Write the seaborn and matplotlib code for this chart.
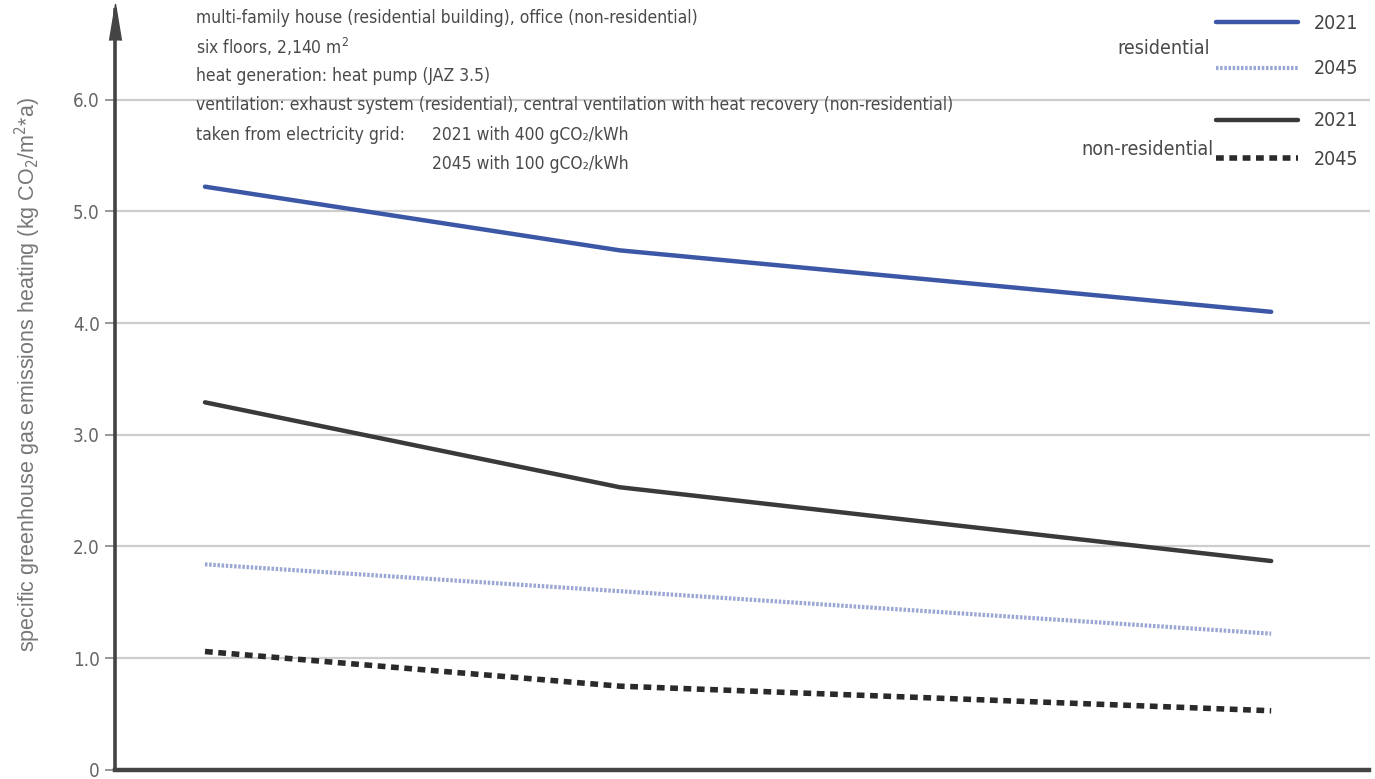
import numpy as np
import pandas as pd
import matplotlib
matplotlib.use("Agg")
import matplotlib.pyplot as plt
import seaborn as sns
from matplotlib.lines import Line2D

# data (x positions have no labels in the original)
x_pos = [1.0, 2.0, 3.57]
res_2021 = [5.22, 4.65, 4.10]
res_2045 = [1.84, 1.60, 1.22]
nonres_2021 = [3.29, 2.53, 1.87]
nonres_2045 = [1.06, 0.75, 0.53]
y_ticks = [0, 1, 2, 3, 4, 5, 6]
y_tick_labels = ["0", "1.0", "2.0", "3.0", "4.0", "5.0", "6.0"]

info_lines = [
    "multi-family house (residential building), office (non-residential)",
    "six floors, 2,140 m$^2$",
    "heat generation: heat pump (JAZ 3.5)",
    "ventilation: exhaust system (residential), central ventilation with heat recovery (non-residential)",
    "taken from electricity grid:",
]
grid_notes = ["2021 with 400 gCO\u2082/kWh", "2045 with 100 gCO\u2082/kWh"]

sns.set_theme(style="white")
plt.rcParams['font.family'] = ['DejaVu Sans']
plt.rcParams['font.stretch'] = 'condensed'

fig = plt.figure(figsize=(13.75, 7.79), dpi=100)
ax = fig.add_axes([0.0836, 0.0116, 0.9124, 0.9754])

blue = "#3c57a6"
light_blue = "#9aa7d4"
dark = "#3a3a3a"

sns.lineplot(x=x_pos, y=res_2021, ax=ax, color=blue, linewidth=3.2)
sns.lineplot(x=x_pos, y=res_2045, ax=ax, color=light_blue, linewidth=3.0,
             linestyle=(0, (0.6, 0.4)))
sns.lineplot(x=x_pos, y=nonres_2021, ax=ax, color=dark, linewidth=3.2)
sns.lineplot(x=x_pos, y=nonres_2045, ax=ax, color="#2a2a2a", linewidth=4.0,
             linestyle=(0, (1.4, 1.0)))

ax.set_xlim(0.783, 3.807)
ax.set_ylim(0, 6.8)
ax.set_xticks([])
ax.set_yticks(y_ticks)
ax.set_yticklabels(y_tick_labels, color="#666666", fontsize=13.5)
ax.tick_params(axis="y", length=7, width=1.2, color="#888888", pad=4, left=True)

for v in y_ticks[1:]:
    ax.axhline(v, color="#cdcdcd", linewidth=1.6, zorder=0)

for s in ["top", "right"]:
    ax.spines[s].set_visible(False)
ax.spines["left"].set_color("#444444")
ax.spines["left"].set_linewidth(2.6)
ax.spines["bottom"].set_color("#444444")
ax.spines["bottom"].set_linewidth(3.2)
ax.plot([0], [0.985], marker=[(-0.33, -1), (0, 1), (0.33, -1)], markersize=26,
        color="#444444", transform=ax.transAxes, clip_on=False)

ax.set_ylabel("specific greenhouse gas emissions heating (kg CO$_2$/m$^2$*a)",
              family=['Liberation Sans', 'DejaVu Sans'], fontstretch='normal',
              color="#777777", fontsize=15.5)
ax.yaxis.set_label_coords(-0.057, 0.52)

# info text block
tx = 0.065
for i, line in enumerate(info_lines):
    ax.text(tx, 0.990 - i * 0.0385, line, transform=ax.transAxes,
            fontsize=12.5, color="#4a4a4a", va="center", ha="left")
for i, line in enumerate(grid_notes):
    ax.text(0.253, 0.836 - i * 0.0385, line, transform=ax.transAxes,
            fontsize=12.5, color="#4a4a4a", va="center", ha="left")

# legends
h_res = [Line2D([], [], color=blue, linewidth=3.2),
         Line2D([], [], color=light_blue, linewidth=3.0, linestyle=(0, (0.6, 0.4)))]
h_non = [Line2D([], [], color=dark, linewidth=3.2),
         Line2D([], [], color="#2a2a2a", linewidth=4.0, linestyle=(0, (1.4, 1.0)))]
leg1 = ax.legend(h_res, ["2021", "2045"], loc="upper right",
                 bbox_to_anchor=(1.0, 1.01), frameon=False, fontsize=14,
                 handlelength=4.2, labelcolor="#444444", labelspacing=1.35,
                 borderaxespad=0.2)
ax.add_artist(leg1)
ax.legend(h_non, ["2021", "2045"], loc="upper right",
          bbox_to_anchor=(1.0, 0.882), frameon=False, fontsize=14,
          handlelength=4.2, labelcolor="#444444", labelspacing=1.0,
          borderaxespad=0.2)
ax.text(0.873, 0.95, "residential", transform=ax.transAxes, fontsize=14,
        color="#4a4a4a", ha="right", va="center")
ax.text(0.876, 0.816, "non-residential", transform=ax.transAxes, fontsize=14,
        color="#4a4a4a", ha="right", va="center")

fig.savefig("out.png", dpi=100)
